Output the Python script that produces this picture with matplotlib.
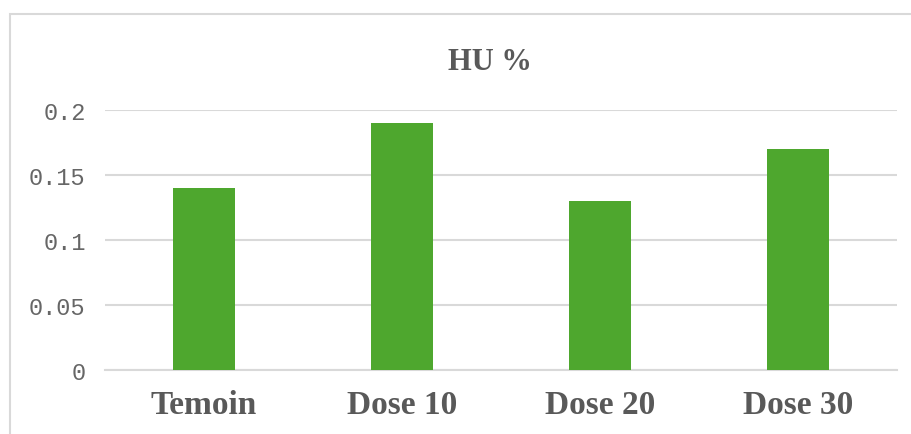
import matplotlib.pyplot as plt
from matplotlib.patches import Rectangle

categories = ["Temoin", "Dose 10", "Dose 20", "Dose 30"]
values = [0.14, 0.19, 0.13, 0.17]
yticks = [0, 0.05, 0.1, 0.15, 0.2]
ytick_labels = ["0", "0.05", "0.1", "0.15", "0.2"]

text_col = "#595959"
grid_col = "#d9d9d9"
bar_col = "#4ea72e"

fig = plt.figure(figsize=(9.12, 4.35), dpi=100)
ax = fig.add_axes([105 / 912, 1 - 371 / 435, 792 / 912, 260 / 435])

# chart border (cropped on the right and bottom)
fig.patches.append(Rectangle((10 / 912, -0.1), 1.2, 1 - 15 / 435 + 0.1,
                             transform=fig.transFigure, fill=False,
                             edgecolor=grid_col, linewidth=1.5))

x = range(len(categories))
ax.bar(x, values, width=0.31, color=bar_col, zorder=3)

ax.set_xlim(-0.5, len(categories) - 0.5)
ax.set_ylim(0, 0.2)
ax.set_yticks(yticks)
ax.set_yticklabels(ytick_labels, family="Liberation Mono", fontsize=17, color="#666666")
ax.set_xticks(list(x))
ax.set_xticklabels(categories, family="Liberation Serif", fontweight="bold",
                   fontsize=24, color=text_col)
ax.tick_params(axis="y", length=0, pad=14)
ax.tick_params(axis="x", length=0, pad=14)

ax.grid(axis="y", color=grid_col, linewidth=1.5, zorder=0)
for s in ["top", "right", "left"]:
    ax.spines[s].set_visible(False)
ax.spines["bottom"].set_color(grid_col)
ax.spines["bottom"].set_linewidth(1.5)

fig.text(490 / 912, 1 - 62 / 435, "HU %", ha="center", va="center",
         family="Liberation Serif", fontweight="bold", fontsize=22, color=text_col)

fig.savefig("out.png", dpi=100)
